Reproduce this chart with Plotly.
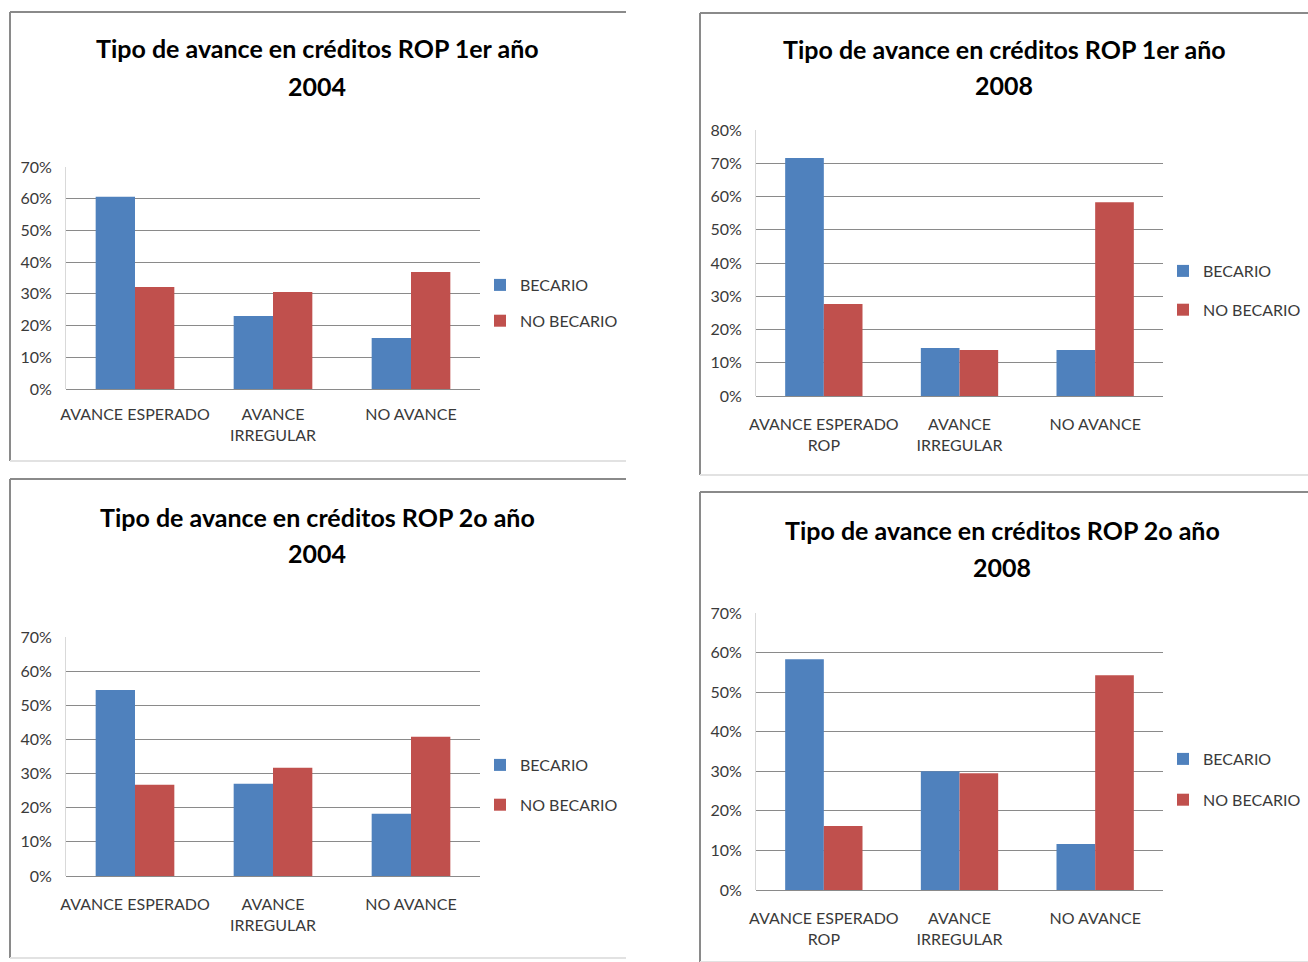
import plotly.graph_objects as go

W, H = 1308, 962

# ---------------- data ----------------
cats_2004 = ["AVANCE ESPERADO", "AVANCE<br>IRREGULAR", "NO AVANCE"]
cats_2008 = ["AVANCE ESPERADO<br>ROP", "AVANCE<br>IRREGULAR", "NO AVANCE"]
series_names = ["BECARIO", "NO BECARIO"]

becario_1er_2004 = [0.606, 0.230, 0.161]
no_becario_1er_2004 = [0.322, 0.306, 0.369]

becario_1er_2008 = [0.716, 0.144, 0.138]
no_becario_1er_2008 = [0.277, 0.138, 0.583]

becario_2o_2004 = [0.545, 0.270, 0.182]
no_becario_2o_2004 = [0.267, 0.317, 0.408]

becario_2o_2008 = [0.583, 0.300, 0.116]
no_becario_2o_2008 = [0.162, 0.295, 0.543]

titles = [
    ("Tipo de avance en créditos ROP 1er año", "2004"),
    ("Tipo de avance en créditos ROP 1er año", "2008"),
    ("Tipo de avance en créditos ROP 2o año", "2004"),
    ("Tipo de avance en créditos ROP 2o año", "2008"),
]
y_max = [0.7, 0.8, 0.7, 0.7]

# ---------------- styling ----------------
BLUE = "#4F81BD"
RED = "#C0504D"
GRID = "#8a8a8a"
TXT = "#3a3a3a"
FONT = "Lato, Liberation Sans Narrow, sans-serif"


def px_x(x):
    return x / W


def px_y(y):
    return 1 - y / H


# plot areas in pixels: (left, right, top, bottom)
areas = [
    (66, 480, 167, 389),
    (756, 1163, 130, 396),
    (66, 480, 637, 876),
    (756, 1163, 613, 890),
]
x_standoff = [14, 17, 17, 17]
# title line centres (x, y1, y2)
title_pos = [(317, 48, 86), (1004, 49, 85), (317, 517, 553), (1002, 530, 567)]
# legend top-left (px)
legend_pos = [(480, 268), (1163, 254), (480, 748), (1163, 742)]
legend_gap = [12, 15, 16, 17]
# panel borders: (left, top, right, bottom)
panels = [(10, 12, 626, 461), (700, 13, 1308, 475), (10, 479, 626, 958), (700, 492, 1308, 962)]

data = [
    (cats_2004, becario_1er_2004, no_becario_1er_2004),
    (cats_2008, becario_1er_2008, no_becario_1er_2008),
    (cats_2004, becario_2o_2004, no_becario_2o_2004),
    (cats_2008, becario_2o_2008, no_becario_2o_2008),
]

fig = go.Figure()
layout = dict(
    width=W,
    height=H,
    margin=dict(l=0, r=0, t=0, b=0, autoexpand=False),
    paper_bgcolor="white",
    plot_bgcolor="white",
    barmode="group",
    bargap=0.43,
    bargroupgap=0,
    font=dict(family=FONT, color=TXT),
    showlegend=True,
)
annotations = []
shapes = []

for i, (cats, b, nb) in enumerate(data):
    n = "" if i == 0 else str(i + 1)
    xa, ya = "x" + n, "y" + n
    leg = "legend" + n
    for j, (name, vals, col) in enumerate(zip(series_names, [b, nb], [BLUE, RED])):
        fig.add_trace(
            go.Bar(
                x=cats,
                y=vals,
                name=name,
                marker=dict(color=col, line=dict(width=0)),
                xaxis=xa,
                yaxis=ya,
                legend=leg,
                legendgroup=f"g{i}_{j}",
                hoverinfo="x+y+name",
            )
        )
    l, r, t, btm = areas[i]
    layout["xaxis" + n] = dict(
        domain=[px_x(l), px_x(r)],
        anchor=ya,
        automargin=False,
        showgrid=False,
        showline=False,
        zeroline=False,
        ticks="",
        tickfont=dict(family=FONT, size=16, color=TXT),
        ticklabelstandoff=x_standoff[i],
        fixedrange=True,
    )
    layout["yaxis" + n] = dict(
        domain=[px_y(btm), px_y(t)],
        anchor=xa,
        automargin=False,
        range=[0, y_max[i]],
        dtick=0.1,
        tickformat=".0%",
        showgrid=True,
        gridcolor=GRID,
        gridwidth=1,
        zeroline=True,
        zerolinecolor=GRID,
        zerolinewidth=1,
        showline=True,
        linecolor="#d9d9d9",
        linewidth=1,
        ticks="",
        tickfont=dict(family=FONT, size=16, color=TXT),
        ticklabelstandoff=10,
        fixedrange=True,
    )
    lx, ly = legend_pos[i]
    layout[leg] = dict(
        x=px_x(lx),
        y=px_y(ly),
        xanchor="left",
        yanchor="top",
        bgcolor="rgba(0,0,0,0)",
        font=dict(family=FONT, size=16, color=TXT),
        tracegroupgap=legend_gap[i],
        itemwidth=30,
    )
    cx, y1, y2 = title_pos[i]
    for txt, yy in zip(titles[i], (y1, y2)):
        annotations.append(
            dict(
                text=f"<b>{txt}</b>",
                x=px_x(cx),
                y=px_y(yy),
                xref="paper",
                yref="paper",
                xanchor="center",
                yanchor="middle",
                showarrow=False,
                font=dict(family=FONT, size=25, color="black"),
            )
        )
    pl, pt, pr, pb = panels[i]
    shapes.append(dict(type="line", xref="paper", yref="paper",
                       x0=px_x(pl), x1=px_x(pr), y0=px_y(pt), y1=px_y(pt),
                       line=dict(color="#8a8a8a", width=2)))
    shapes.append(dict(type="line", xref="paper", yref="paper",
                       x0=px_x(pl), x1=px_x(pl), y0=px_y(pt), y1=px_y(pb),
                       line=dict(color="#8a8a8a", width=2)))
    shapes.append(dict(type="line", xref="paper", yref="paper",
                       x0=px_x(pl), x1=px_x(pr), y0=px_y(pb), y1=px_y(pb),
                       line=dict(color="#e2e2e2", width=2)))

layout["annotations"] = annotations
layout["shapes"] = shapes
fig.update_layout(**layout)

fig.write_html(
    "out.html",
    config={"displayModeBar": False},
    post_script="document.body.style.margin='0';document.body.style.overflow='hidden';",
)
